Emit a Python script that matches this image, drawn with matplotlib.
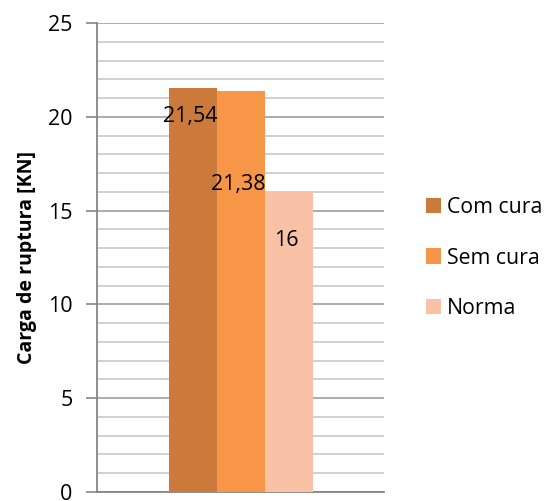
import matplotlib
matplotlib.use("Agg")
import matplotlib.pyplot as plt
from matplotlib.patches import Patch

series = ["Com cura", "Sem cura", "Norma"]
values = [21.54, 21.38, 16]
value_labels = ["21,54", "21,38", "16"]
colors = ["#CB7A3B", "#F79646", "#F9C1A6"]

plt.rcParams["font.family"] = ["Open Sans", "DejaVu Sans"]

fig = plt.figure(figsize=(5.49, 5.01), dpi=100)
W, H = 549, 501
ax = fig.add_axes([97 / W, 1 - 492 / H, (384 - 97) / W, (492 - 23) / H])

bar_w = 48 / 287
offsets = [-1, 0, 1]
# label drop below each bar top, in data units
label_drop = [1.55, 5.0, 2.6]
for off, v, lab, c, d in zip(offsets, values, value_labels, colors, label_drop):
    x = off * bar_w
    ax.bar(x, v, width=bar_w, color=c, zorder=3)
    ax.text(x - 0.008, v - d, lab, ha="center", va="center", fontsize=15.5,
            color="black", zorder=4)

ax.set_xlim(-0.5, 0.5)
ax.set_ylim(0, 25)
ax.set_yticks(range(0, 26, 5))
ax.set_yticks(range(0, 26, 1), minor=True)
ax.set_xticks([])
ax.grid(axis="y", which="minor", color="#C8C8C8", linewidth=1.2, zorder=0)
ax.grid(axis="y", which="major", color="#A6A6A6", linewidth=1.3, zorder=0)
ax.tick_params(axis="y", which="major", length=8, width=1.2, color="#868686",
               labelsize=15.5, pad=9.5)
ax.tick_params(axis="y", which="minor", length=0)
for s in ["top", "right"]:
    ax.spines[s].set_visible(False)
ax.spines["left"].set_color("#868686")
ax.spines["left"].set_linewidth(1.3)
ax.spines["bottom"].set_color("#868686")
ax.spines["bottom"].set_linewidth(1.3)

ax.set_ylabel("Carga de ruptura [KN]", fontsize=14, fontweight="bold", labelpad=8)

handles = [Patch(facecolor=c, edgecolor="none") for c in colors]
fig.legend(handles, series, loc="center left", bbox_to_anchor=(417 / W, 1 - 258 / H),
           frameon=False, fontsize=15.3, handlelength=0.72, handleheight=0.72,
           handletextpad=0.3, labelspacing=1.4, borderaxespad=0)

fig.savefig("out.png", dpi=100)
